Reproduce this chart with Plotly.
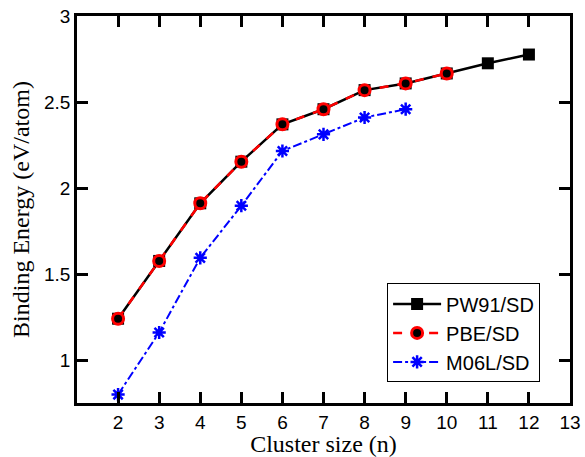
import plotly.graph_objects as go

sizes_pw91 = [2, 3, 4, 5, 6, 7, 8, 9, 10, 11, 12]
pw91 = [1.24, 1.576, 1.911, 2.153, 2.370, 2.458, 2.569, 2.608, 2.666, 2.725, 2.776]
sizes_pbe = [2, 3, 4, 5, 6, 7, 8, 9, 10]
pbe = [1.24, 1.576, 1.911, 2.153, 2.370, 2.458, 2.569, 2.608, 2.666]
sizes_m06l = [2, 3, 4, 5, 6, 7, 8, 9]
m06l = [0.799, 1.16, 1.594, 1.897, 2.215, 2.312, 2.41, 2.458]
x_ticks = [2, 3, 4, 5, 6, 7, 8, 9, 10, 11, 12, 13]
y_ticks = [1, 1.5, 2, 2.5, 3]
y_tick_text = ["1", "1.5", "2", "2.5", "3"]

fig = go.Figure()
fig.add_trace(go.Scatter(
    x=sizes_pw91, y=pw91, name="PW91/SD", mode="lines+markers",
    line=dict(color="black", width=2.5),
    marker=dict(symbol="square", size=12, color="black"),
))
fig.add_trace(go.Scatter(
    x=sizes_pbe, y=pbe, name="PBE/SD", mode="lines+markers",
    line=dict(color="red", width=2.5, dash="dash"),
    marker=dict(symbol="circle", size=11, color="black", line=dict(color="red", width=3)),
))
fig.add_trace(go.Scatter(
    x=sizes_m06l, y=m06l, name="M06L/SD", mode="lines+markers",
    line=dict(color="blue", width=2, dash="dashdot"),
    marker=dict(symbol="asterisk-open", size=11, color="blue", line=dict(color="blue", width=2.5)),
))

tick_font = dict(family="Liberation Sans, Arial", size=19, color="black")
title_font = dict(family="Liberation Serif, Times New Roman", size=24, color="black")
axis_common = dict(
    showline=True, linecolor="black", linewidth=2.5, mirror="ticks",
    ticks="inside", ticklen=11, tickwidth=2.5, tickcolor="black",
    showgrid=False, zeroline=False, automargin=False,
    ticklabeloverflow="allow", tickfont=tick_font,
)
fig.update_xaxes(
    range=[1, 13], tickvals=x_ticks, ticktext=[str(v) for v in x_ticks],
    title=dict(text="Cluster size (n)", font=title_font, standoff=6),
    **axis_common,
)
fig.update_yaxes(
    range=[0.75, 3], tickvals=y_ticks, ticktext=y_tick_text,
    title=dict(text="Binding Energy (eV/atom)", font=title_font, standoff=8),
    **axis_common,
)
fig.update_layout(
    width=585, height=457,
    margin=dict(l=77, r=15, t=16, b=54),
    plot_bgcolor="white", paper_bgcolor="white",
    legend=dict(
        x=0.629, y=0.309, xanchor="left", yanchor="top",
        bordercolor="black", borderwidth=1, bgcolor="white",
        font=dict(family="Liberation Sans, Arial", size=20, color="black"),
        tracegroupgap=0, itemwidth=48,
    ),
)
fig.write_html(
    "out.html",
    config={"displayModeBar": False},
    post_script="document.body.style.margin='0';document.body.style.padding='0';document.body.style.overflow='hidden';",
)
